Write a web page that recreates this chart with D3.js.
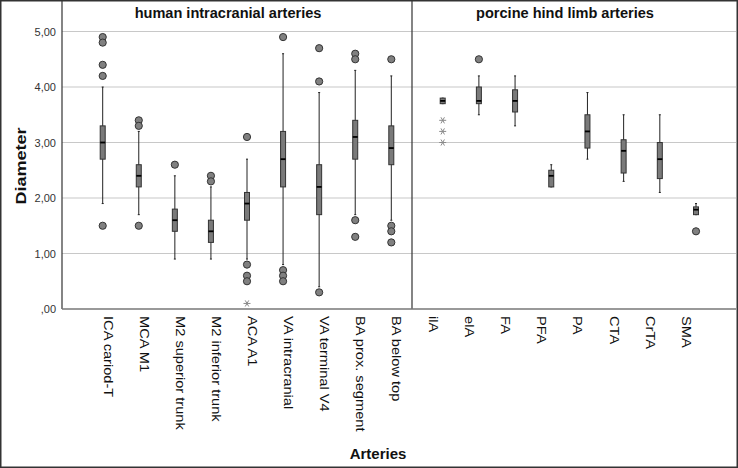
<!DOCTYPE html>
<html>
<head>
<meta charset="utf-8">
<script src="https://cdn.jsdelivr.net/npm/d3@7"></script>
<style>
html,body{margin:0;padding:0;background:#fff;}
svg{display:block;font-family:"Liberation Sans",Arial,sans-serif;}
</style>
</head>
<body>
<svg id="chart" width="738" height="468"></svg>
<script>
// ---- data ----
const humanCategories = ["ICA cariod-T","MCA M1","M2 superior trunk","M2 inferior trunk","ACA A1","VA intracranial","VA terminal V4","BA prox. segment","BA below top"];
const porcineCategories = ["ilA","elA","FA","PFA","PA","CTA","CrTA","SMA"];
const panelTitles = ["human intracranial arteries","porcine hind limb arteries"];
// human box statistics
const humanWhiskerLow  = [1.9, 1.7, 0.9, 0.9, 0.9, 0.8, 0.4, 1.7, 1.6];
const humanQ1          = [2.7, 2.2, 1.4, 1.2, 1.6, 2.2, 1.7, 2.7, 2.6];
const humanMedian      = [3.0, 2.4, 1.6, 1.4, 1.9, 2.7, 2.2, 3.1, 2.9];
const humanQ3          = [3.3, 2.6, 1.8, 1.6, 2.1, 3.2, 2.6, 3.4, 3.3];
const humanWhiskerHigh = [4.0, 3.2, 2.4, 2.2, 2.7, 4.6, 3.9, 4.3, 4.2];
const humanOutliers = [[4.9,4.8,4.4,4.2,1.5],[3.4,3.3,1.5],[2.6],[2.4,2.3],[3.1,0.8,0.6,0.5],[4.9,0.7,0.6,0.5],[4.7,4.1,0.3],[4.6,4.5,1.6,1.3],[4.5,1.5,1.4,1.2]];
const humanExtremes = [[],[],[],[],[0.1],[],[],[],[]];
// porcine box statistics
const porcineWhiskerLow  = [3.7, 3.5, 3.3, 2.2, 2.7, 2.3, 2.1, 1.7];
const porcineQ1          = [3.7, 3.7, 3.55, 2.2, 2.9, 2.45, 2.35, 1.7];
const porcineMedian      = [3.75, 3.75, 3.75, 2.4, 3.2, 2.85, 2.7, 1.79];
const porcineQ3          = [3.8, 4.0, 3.95, 2.5, 3.5, 3.05, 3.0, 1.84];
const porcineWhiskerHigh = [3.8, 4.2, 4.2, 2.6, 3.9, 3.5, 3.5, 1.9];
const porcineOutliers = [[],[4.5],[],[],[],[],[],[1.4]];
const porcineExtremes = [[3.4,3.2,3.0],[],[],[],[],[],[],[]];
const yTicks = [0,1,2,3,4,5];

// ---- layout ----
const W = 738, H = 468;
const plotLeft = 62, plotRight = 736, plotTop = 1, plotBottom = 309;
const divider = 412;
const svg = d3.select("#chart");

const y = d3.scaleLinear().domain([0, 5.55]).range([plotBottom, plotTop]);
const xHuman = d3.scalePoint().domain(humanCategories).range([102.7, 391.3]);
const xPorcine = d3.scalePoint().domain(porcineCategories).range([442.7, 696]);

// outer border
svg.append("rect").attr("x",0.75).attr("y",0.75).attr("width",W-1.5).attr("height",H-1.5)
  .attr("fill","none").attr("stroke","#333").attr("stroke-width",1.5);

// gridlines
const grid = svg.append("g");
grid.selectAll("line").data(yTicks.filter(d=>d>0)).join("line")
  .attr("x1",plotLeft).attr("x2",plotRight)
  .attr("y1",d=>y(d)).attr("y2",d=>y(d))
  .attr("stroke","#c8c8c8").attr("stroke-width",1.2);

// y axis tick labels
const yAxis = d3.axisLeft(y).tickValues(yTicks).tickSize(0).tickPadding(6)
  .tickFormat(d => d===0 ? ",00" : d3.format(".2f")(d).replace(".",","));
const ya = svg.append("g").attr("transform",`translate(${plotLeft},0)`).call(yAxis);
ya.select(".domain").remove();
ya.selectAll("text").attr("font-size",11).attr("fill","#333").attr("font-family","Liberation Sans, Arial, sans-serif");

// frame lines
svg.append("line").attr("x1",plotLeft).attr("x2",plotLeft).attr("y1",0).attr("y2",plotBottom).attr("stroke","#333").attr("stroke-width",1.2);
svg.append("line").attr("x1",divider).attr("x2",divider).attr("y1",0).attr("y2",plotBottom).attr("stroke","#333").attr("stroke-width",1.2);
svg.append("line").attr("x1",plotLeft).attr("x2",plotRight).attr("y1",plotBottom).attr("y2",plotBottom).attr("stroke","#777").attr("stroke-width",1.5);

// panel titles
svg.append("text").attr("transform",`translate(${(plotLeft+divider)/2-9},18) scale(1.04,1)`).attr("text-anchor","middle")
  .attr("font-weight","bold").attr("font-size",14).attr("fill","#111").text(panelTitles[0]);
svg.append("text").attr("transform",`translate(${(divider+plotRight)/2-9},18) scale(1.04,1)`).attr("text-anchor","middle")
  .attr("font-weight","bold").attr("font-size",14).attr("fill","#111").text(panelTitles[1]);

const starSymbol = d3.symbol().type(d3.symbolAsterisk || d3.symbolCross).size(34);

// boxes
function drawPanel(cats, x, wl, q1, med, q3, wh, outl, extr, labelOffset) {
  const g = svg.append("g");
  const bw = 5;
  cats.forEach((c,i) => {
    const cx = x(c);
    // whisker
    g.append("line").attr("x1",cx).attr("x2",cx).attr("y1",y(wl[i])).attr("y2",y(wh[i]))
      .attr("stroke","#222").attr("stroke-width",1);
    g.append("line").attr("x1",cx-1).attr("x2",cx+1).attr("y1",y(wl[i])).attr("y2",y(wl[i])).attr("stroke","#222");
    g.append("line").attr("x1",cx-1).attr("x2",cx+1).attr("y1",y(wh[i])).attr("y2",y(wh[i])).attr("stroke","#222");
    // box
    g.append("rect").attr("x",cx-bw/2).attr("width",bw)
      .attr("y",y(q3[i])).attr("height",Math.max(y(q1[i])-y(q3[i]),1))
      .attr("fill","#7a7a7a").attr("stroke","#333").attr("stroke-width",1);
    // median
    g.append("line").attr("x1",cx-bw/2).attr("x2",cx+bw/2).attr("y1",y(med[i])).attr("y2",y(med[i]))
      .attr("stroke","#000").attr("stroke-width",1.8);
    // outliers
    outl[i].forEach(v => {
      g.append("circle").attr("cx",cx).attr("cy",y(v)).attr("r",3.6)
        .attr("fill","#808080").attr("stroke","#333").attr("stroke-width",1);
    });
    // extremes
    extr[i].forEach(v => {
      g.append("path").attr("d",starSymbol()).attr("transform",`translate(${cx},${y(v)}) rotate(90)`)
        .attr("fill","none").attr("stroke","#8a8a8a").attr("stroke-width",1);
    });
    // category label
    g.append("text").attr("transform",`translate(${cx+labelOffset},316) rotate(90) scale(1.22,1)`)
      .attr("text-anchor","start").attr("font-size",12).attr("fill","#111").text(c);
  });
}
drawPanel(humanCategories, xHuman, humanWhiskerLow, humanQ1, humanMedian, humanQ3, humanWhiskerHigh, humanOutliers, humanExtremes, 1);
drawPanel(porcineCategories, xPorcine, porcineWhiskerLow, porcineQ1, porcineMedian, porcineQ3, porcineWhiskerHigh, porcineOutliers, porcineExtremes, -14);

// axis titles
svg.append("text").attr("transform",`translate(26,166) rotate(-90) scale(1.2,1)`).attr("text-anchor","middle")
  .attr("font-weight","bold").attr("font-size",15).attr("fill","#111").text("Diameter");
svg.append("text").attr("x",378).attr("y",459).attr("text-anchor","middle")
  .attr("font-weight","bold").attr("font-size",15).attr("fill","#111").text("Arteries");
</script>
</body>
</html>
